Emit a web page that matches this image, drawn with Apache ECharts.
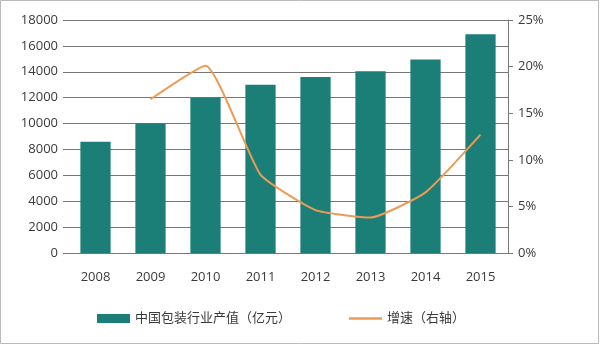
<!DOCTYPE html>
<html><head><meta charset="utf-8">
<script src="https://cdn.jsdelivr.net/npm/echarts@6/dist/echarts.min.js"></script>
<style>html,body{margin:0;padding:0;background:#fff}#c{width:600px;height:346px}</style>
</head><body><div id="c"></div>
<script>
const years = ['2008','2009','2010','2011','2012','2013','2014','2015'];
const outputValue = [8600, 10000, 12000, 13000, 13600, 14050, 14950, 16900];
const growthRate = [null, 16.5, 20.1, 8.4, 4.6, 3.8, 6.5, 12.7];
const leftTicks = [0, 18000, 2000];
const rightTicks = [0, 25, 5];

const chart = echarts.init(document.getElementById('c'));
const txt = '#3a3a3a';
const ff = "'Open Sans','Noto Sans CJK SC',sans-serif";
chart.setOption({
  animation: false,
  textStyle: {fontFamily: ff},
  graphic: [{type:'rect', shape:{x:0.5,y:0.5,width:598,height:343}, style:{fill:'none', stroke:'#bbb', lineWidth:1}}],
  grid: {left: 68, right: 92, top: 20, bottom: 93},
  legend: {
    bottom: 16, left: 92, itemGap: 58, itemWidth: 33, itemHeight: 9,
    textStyle: {color: txt, fontSize: 13, fontFamily: ff},
    data: [{name:'中国包装行业产值（亿元）', icon:'rect'},
           {name:'增速（右轴）', icon:'path://M0,0 L33,0 L33,2.5 L0,2.5 Z', itemStyle:{color:'#ee9a55'}}]
  },
  xAxis: {
    type: 'category', data: years,
    axisLine: {lineStyle: {color: '#777'}},
    axisTick: {show: false},
    axisLabel: {color: txt, fontSize: 13, margin: 18}
  },
  yAxis: [{
    type: 'value', min: leftTicks[0], max: leftTicks[1], interval: leftTicks[2],
    axisLine: {show: false},
    axisTick: {show: true, length: 5, lineStyle: {color: '#777'}},
    splitLine: {lineStyle: {color: '#777', width: 1}},
    axisLabel: {color: txt, fontSize: 13, margin: 10, formatter: v => String(v)}
  }, {
    type: 'value', min: rightTicks[0], max: rightTicks[1], interval: rightTicks[2],
    position: 'right',
    axisLine: {show: true, lineStyle: {color: '#777'}},
    axisTick: {show: true, length: 5, lineStyle: {color: '#777'}},
    splitLine: {show: false},
    axisLabel: {color: txt, fontSize: 13, margin: 10, formatter: '{value}%'}
  }],
  series: [{
    name: '中国包装行业产值（亿元）', type: 'bar', data: outputValue,
    barWidth: '55%', itemStyle: {color: '#1b7f77'}
  }, {
    name: '增速（右轴）', type: 'line', yAxisIndex: 1, data: growthRate,
    smooth: 0.15, symbol: 'none',
    lineStyle: {color: '#ee9a55', width: 2}, itemStyle: {color: '#ee9a55'}
  }]
});
</script></body></html>
